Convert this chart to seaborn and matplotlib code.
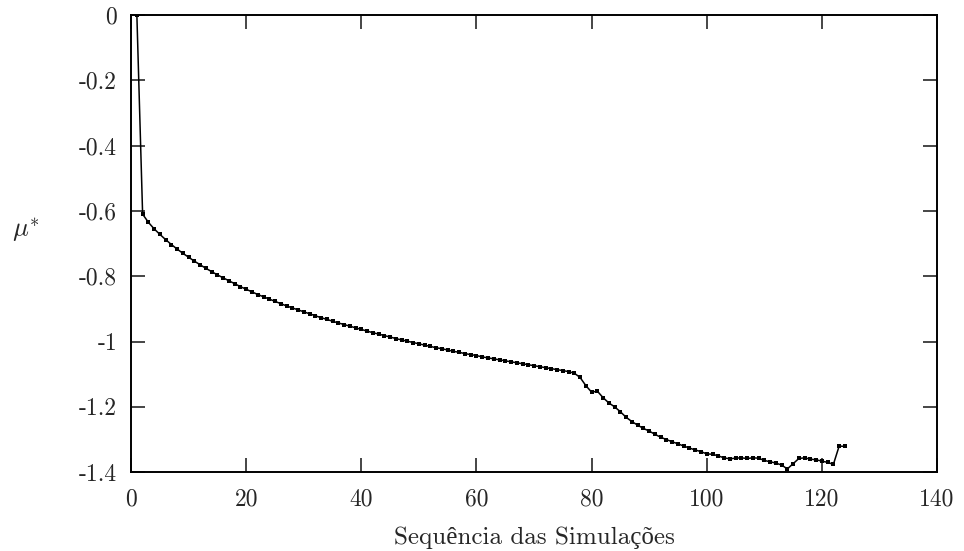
import numpy as np
import pandas as pd
import matplotlib
matplotlib.use("Agg")
import matplotlib.pyplot as plt
import seaborn as sns

# Data (one point per simulation)
simulacao = list(range(1, 125))
mu_estrela = [
    0.000, -0.610, -0.635, -0.655, -0.672, -0.688, -0.703, -0.717, -0.730, -0.742,
    -0.754, -0.765, -0.776, -0.786, -0.796, -0.805, -0.814, -0.823, -0.832, -0.840,
    -0.848, -0.856, -0.863, -0.870, -0.877, -0.884, -0.891, -0.897, -0.903, -0.909,
    -0.915, -0.921, -0.927, -0.932, -0.938, -0.943, -0.948, -0.953, -0.958, -0.963,
    -0.968, -0.973, -0.977, -0.982, -0.986, -0.991, -0.995, -0.999, -1.003, -1.007,
    -1.011, -1.015, -1.019, -1.022, -1.026, -1.030, -1.033, -1.037, -1.040, -1.043,
    -1.047, -1.050, -1.053, -1.056, -1.059, -1.062, -1.065, -1.068, -1.071, -1.074,
    -1.077, -1.080, -1.083, -1.086, -1.089, -1.092, -1.097, -1.110, -1.135, -1.155,
    -1.152, -1.172, -1.188, -1.200, -1.215, -1.232, -1.245, -1.256, -1.266, -1.274,
    -1.284, -1.293, -1.300, -1.307, -1.313, -1.320, -1.326, -1.332, -1.337, -1.344,
    -1.345, -1.350, -1.356, -1.359, -1.357, -1.356, -1.358, -1.356, -1.357, -1.364,
    -1.368, -1.372, -1.378, -1.390, -1.374, -1.358, -1.356, -1.360, -1.362, -1.366,
    -1.370, -1.376, -1.320, -1.321,
]

x_ticks = [0, 20, 40, 60, 80, 100, 120, 140]
x_labels = ["0", "20", "40", "60", "80", "100", "120", "140"]
y_ticks = [-1.4, -1.2, -1.0, -0.8, -0.6, -0.4, -0.2, 0.0]
y_labels = ["-1.4", "-1.2", "-1", "-0.8", "-0.6", "-0.4", "-0.2", "0"]

df = pd.DataFrame({"sim": simulacao, "mu": mu_estrela})

sns.set_theme(style="ticks")
plt.rcParams["font.family"] = ["cmr10", "Liberation Serif"]
plt.rcParams["mathtext.fontset"] = "cm"
plt.rcParams["axes.unicode_minus"] = False

fig = plt.figure(figsize=(9.64, 5.51), dpi=100)
ax = fig.add_axes([0.136, 0.143, 0.836, 0.830])

sns.lineplot(
    data=df, x="sim", y="mu",
    color="black", linewidth=1.1,
    marker="s", markersize=2.6, markeredgewidth=0,
    ax=ax,
)

ax.set_xlim(0, 140)
ax.set_ylim(-1.4, 0)
ax.set_xticks(x_ticks)
ax.set_xticklabels(x_labels)
ax.set_yticks(y_ticks)
ax.set_yticklabels(y_labels)

ax.tick_params(axis="both", direction="in", length=10, width=1.2,
               labelsize=17, top=True, right=True)
ax.tick_params(axis="x", pad=12)
ax.tick_params(axis="y", pad=10)

for s in ax.spines.values():
    s.set_visible(True)
    s.set_linewidth(1.4)
    s.set_color("black")

ax.set_xlabel("Sequência das Simulações", fontsize=18, labelpad=11)
ax.set_ylabel(r"$\mu^{*}$", fontsize=19, rotation=0)
ax.yaxis.set_label_coords(-0.13, 0.50)
ax.grid(False)

fig.savefig("out.png", dpi=100)
